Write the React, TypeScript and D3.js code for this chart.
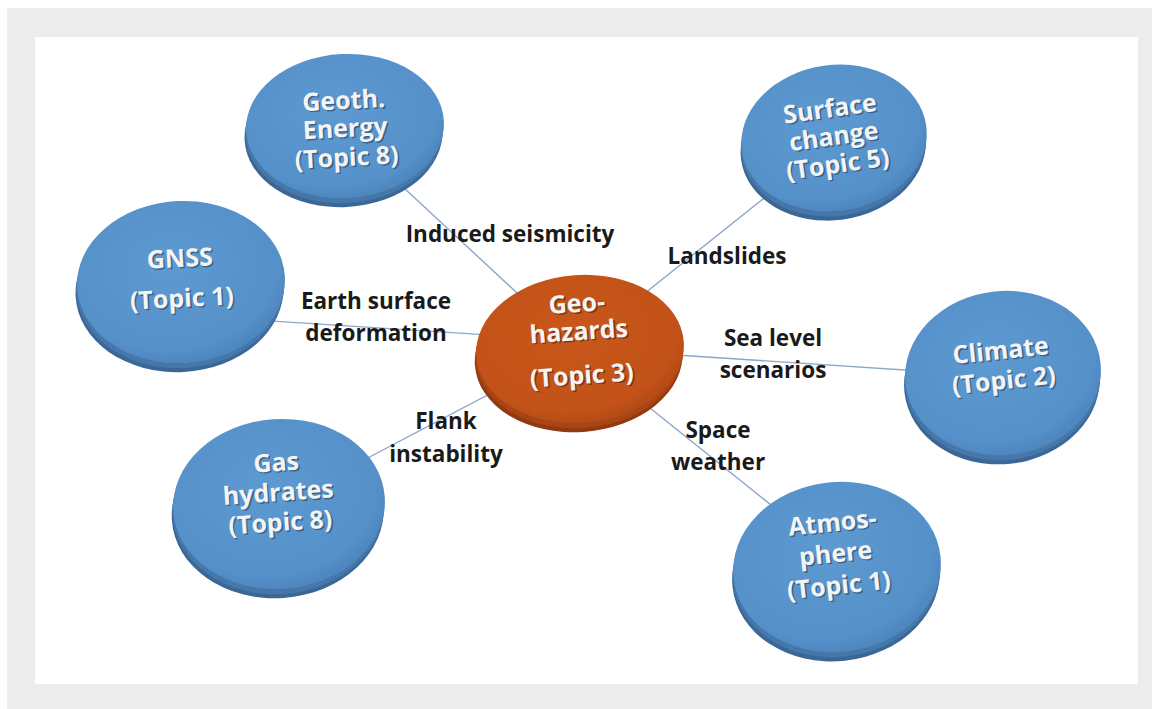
import React, { useEffect, useRef } from "react";
import * as d3 from "d3";

const WIDTH = 1152;
const HEIGHT = 709;

// nodes of the diagram
const nodeIds = ["geo", "geoth", "gnss", "gas", "surface", "climate", "atmos"];
const nodeLines = [
  ["Geo-", "hazards", "(Topic 3)"],
  ["Geoth.", "Energy", "(Topic 8)"],
  ["GNSS", "(Topic 1)"],
  ["Gas", "hydrates", "(Topic 8)"],
  ["Surface", "change", "(Topic 5)"],
  ["Climate", "(Topic 2)"],
  ["Atmos-", "phere", "(Topic 1)"],
];

// links from the central node to each topic, with their labels
const linkTargets = ["geoth", "gnss", "gas", "surface", "climate", "atmos"];
const linkLabels = [
  ["Induced seismicity"],
  ["Earth surface", "deformation"],
  ["Flank", "instability"],
  ["Landslides"],
  ["Sea level", "scenarios"],
  ["Space", "weather"],
];

// layout (pixels)
const layout: Record<string, { cx: number; cy: number; rx: number; ry: number; rot: number; lineGap: number[]; ty: number }> = {
  geo: { cx: 580, cy: 349, rx: 104, ry: 74, rot: -4, lineGap: [0, 28, 44], ty: 312 },
  geoth: { cx: 345, cy: 126, rx: 99, ry: 72, rot: -3, lineGap: [0, 28, 29], ty: 109 },
  gnss: { cx: 181, cy: 282, rx: 104, ry: 81, rot: -3, lineGap: [0, 40], ty: 267 },
  gas: { cx: 279, cy: 504, rx: 106, ry: 85, rot: -4, lineGap: [0, 30, 30], ty: 471 },
  surface: { cx: 834, cy: 138, rx: 93, ry: 73, rot: -8, lineGap: [0, 28, 28], ty: 117 },
  climate: { cx: 1003, cy: 373, rx: 98, ry: 82, rot: -6, lineGap: [0, 30], ty: 359 },
  atmos: { cx: 837, cy: 567, rx: 104, ry: 85, rot: -6, lineGap: [0, 31, 32], ty: 531 },
};

// link anchor offsets (from node centre) so the line hides under both discs
const linkAnchors: Record<string, { from: [number, number]; to: [number, number] }> = {
  geoth: { from: [45, 49], to: [-50, -44] },
  gnss: { from: [59, 37], to: [-60, -12] },
  gas: { from: [62, -32], to: [-60, 29] },
  surface: { from: [-46, 41], to: [40, -36] },
  climate: { from: [-53, 0], to: [50, 3] },
  atmos: { from: [-46, -46], to: [40, 35] },
};

const labelPos: { x: number; y: number; gap: number }[] = [
  { x: 510, y: 242, gap: 0 },
  { x: 376, y: 309, gap: 32 },
  { x: 446, y: 429, gap: 33 },
  { x: 727, y: 264, gap: 0 },
  { x: 773, y: 346, gap: 32 },
  { x: 718, y: 438, gap: 32 },
];

const FONT = "'Open Sans', Lato, sans-serif";

export default function App() {
  const ref = useRef<SVGSVGElement>(null);

  useEffect(() => {
    const svg = d3.select(ref.current);
    svg.selectAll("*").remove();

    const defs = svg.append("defs");
    const blueGrad = defs.append("radialGradient").attr("id", "blueFace").attr("cx", "45%").attr("cy", "40%").attr("r", "65%");
    blueGrad.append("stop").attr("offset", "0%").attr("stop-color", "#5e9ad2");
    blueGrad.append("stop").attr("offset", "80%").attr("stop-color", "#5590c8");
    blueGrad.append("stop").attr("offset", "100%").attr("stop-color", "#4a80b8");
    const orangeGrad = defs.append("radialGradient").attr("id", "orangeFace").attr("cx", "45%").attr("cy", "40%").attr("r", "65%");
    orangeGrad.append("stop").attr("offset", "0%").attr("stop-color", "#c9571a");
    orangeGrad.append("stop").attr("offset", "80%").attr("stop-color", "#c25218");
    orangeGrad.append("stop").attr("offset", "100%").attr("stop-color", "#ac4714");

    // frame
    svg.append("rect").attr("x", 0).attr("y", 0).attr("width", WIDTH).attr("height", HEIGHT).attr("fill", "#ffffff");
    svg.append("rect").attr("x", 7).attr("y", 8).attr("width", WIDTH - 7).attr("height", HEIGHT - 8).attr("fill", "#ececec");
    svg.append("rect").attr("x", 35).attr("y", 37).attr("width", 1103).attr("height", 647).attr("fill", "#ffffff");

    const center = layout.geo;
    const lineGen = d3.line<[number, number]>();

    // links
    linkTargets.forEach((id) => {
      const n = layout[id];
      const a = linkAnchors[id];
      const pts: [number, number][] = [
        [n.cx + a.from[0], n.cy + a.from[1]],
        [center.cx + a.to[0], center.cy + a.to[1]],
      ];
      svg.append("path").attr("d", lineGen(pts)).attr("stroke", "#8ba7c9").attr("stroke-width", 1.4).attr("fill", "none");
    });

    // link labels
    linkLabels.forEach((lines, i) => {
      const p = labelPos[i];
      lines.forEach((t, j) => {
        svg.append("text")
          .attr("x", p.x).attr("y", p.y + j * p.gap)
          .attr("text-anchor", "middle")
          .attr("font-family", FONT).attr("font-weight", 700).attr("font-size", 22.5)
          .attr("fill", "#1a1a1a")
          .text(t);
      });
    });

    // discs
    nodeIds.forEach((id, i) => {
      const n = layout[id];
      const isCenter = id === "geo";
      const g = svg.append("g").attr("transform", `translate(${n.cx},${n.cy}) rotate(${n.rot})`);
      // rim
      g.append("ellipse").attr("cx", -2).attr("cy", 9).attr("rx", n.rx).attr("ry", n.ry)
        .attr("fill", isCenter ? "#8f3a10" : "#3b6796");
      g.append("ellipse").attr("cx", -1).attr("cy", 5).attr("rx", n.rx).attr("ry", n.ry)
        .attr("fill", isCenter ? "#a94512" : "#4677aa");
      // face
      g.append("ellipse").attr("cx", 0).attr("cy", 0).attr("rx", n.rx).attr("ry", n.ry)
        .attr("fill", isCenter ? "url(#orangeFace)" : "url(#blueFace)");

      const lines = nodeLines[i];
      let y = n.ty - n.cy;
      lines.forEach((t, j) => {
        y += n.lineGap[j];
        g.append("text")
          .attr("x", 1.5).attr("y", y + 1.5)
          .attr("text-anchor", "middle")
          .attr("font-family", FONT).attr("font-weight", 700).attr("font-size", 25)
          .attr("fill", "rgba(0,0,0,0.35)")
          .text(t);
        g.append("text")
          .attr("x", 0).attr("y", y)
          .attr("text-anchor", "middle")
          .attr("font-family", FONT).attr("font-weight", 700).attr("font-size", 25)
          .attr("fill", "#f4f4f4")
          .text(t);
      });
    });
  }, []);

  return (
    <div style={{ position: "absolute", left: 0, top: 0 }}>
      <svg ref={ref} width={WIDTH} height={HEIGHT} />
    </div>
  );
}
